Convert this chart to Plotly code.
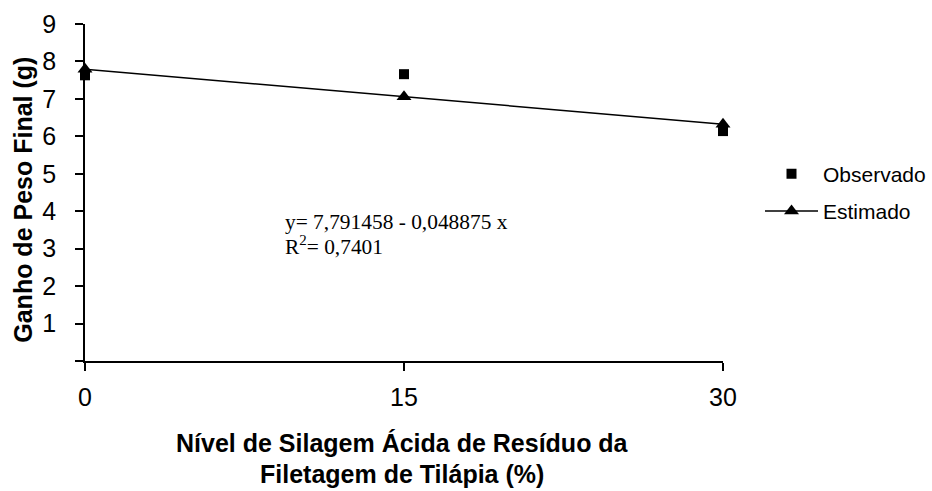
import plotly.graph_objects as go

# Data
nivel = [0, 15, 30]
observado = [7.63, 7.66, 6.14]
intercept = 7.791458
slope = -0.048875
estimado = [intercept + slope * x for x in nivel]
x_ticks = [0, 15, 30]
y_ticks = [0, 1, 2, 3, 4, 5, 6, 7, 8, 9]
y_ticklabels = ["", "1", "2", "3", "4", "5", "6", "7", "8", "9"]

fig = go.Figure()
fig.add_trace(go.Scatter(
    x=nivel, y=observado, mode="markers", name="Observado",
    marker=dict(symbol="square", size=10, color="black"),
    cliponaxis=False, legendgroup="a",
))
fig.add_trace(go.Scatter(
    x=nivel, y=estimado, mode="lines+markers", name="Estimado",
    line=dict(color="black", width=1.5),
    marker=dict(symbol="triangle-up", size=13, color="black"),
    cliponaxis=False, legendgroup="b",
))

fig.update_layout(
    width=932, height=491,
    margin=dict(l=85, r=932 - 723, t=24, b=491 - 361.5, pad=0, autoexpand=False),
    paper_bgcolor="white", plot_bgcolor="white",
    font=dict(family="Liberation Sans, Arial, sans-serif", color="black"),
    showlegend=True,
    legend=dict(
        x=1.058, y=0.50, xanchor="left", yanchor="middle",
        font=dict(size=21, family="Liberation Sans, Arial, sans-serif"),
        itemwidth=53, tracegroupgap=7, traceorder="grouped",
        bgcolor="rgba(0,0,0,0)",
    ),
    xaxis=dict(
        range=[0, 30], tickvals=x_ticks, ticktext=[str(v) for v in x_ticks],
        showline=True, linecolor="black", linewidth=1.5,
        ticks="outside", ticklen=8, tickwidth=1.5, tickcolor="black",
        showgrid=False, zeroline=False, automargin=False,
        tickfont=dict(size=25), ticklabelstandoff=5,
    ),
    yaxis=dict(
        range=[0, 9], tickvals=y_ticks, ticktext=y_ticklabels,
        showline=True, linecolor="black", linewidth=1.5,
        ticks="outside", ticklen=8, tickwidth=1.5, tickcolor="black",
        showgrid=False, zeroline=False, automargin=False,
        tickfont=dict(size=25), ticklabelstandoff=14,
    ),
)

def px_x(p):
    return (p - 85) / (723 - 85)

def px_y(p):
    return (361.5 - p) / (361.5 - 24)

fig.add_annotation(
    text="<b>Ganho de Peso Final (g)</b>", textangle=-90,
    xref="paper", yref="paper", x=px_x(23), y=px_y(200), xanchor="center", yanchor="middle",
    showarrow=False, font=dict(size=25),
)
fig.add_annotation(
    text="<b>Nível de Silagem Ácida de Resíduo da</b>",
    xref="paper", yref="paper", x=px_x(402), y=px_y(444), xanchor="center", yanchor="middle",
    showarrow=False, font=dict(size=25),
)
fig.add_annotation(
    text="<b>Filetagem de Tilápia (%)</b>",
    xref="paper", yref="paper", x=px_x(402), y=px_y(475), xanchor="center", yanchor="middle",
    showarrow=False, font=dict(size=25),
)
fig.add_annotation(
    text="y= 7,791458 - 0,048875 x",
    xref="paper", yref="paper", x=px_x(283), y=px_y(222), xanchor="left", yanchor="middle",
    showarrow=False, font=dict(size=21.4, family="Liberation Serif, Times New Roman, serif"),
)
fig.add_annotation(
    text="R<sup>2</sup>= 0,7401",
    xref="paper", yref="paper", x=px_x(283), y=px_y(246), xanchor="left", yanchor="middle",
    showarrow=False, font=dict(size=21.4, family="Liberation Serif, Times New Roman, serif"),
)

fig.write_html(
    "out.html",
    config={"displayModeBar": False},
    post_script="document.body.style.margin='0';",
)
